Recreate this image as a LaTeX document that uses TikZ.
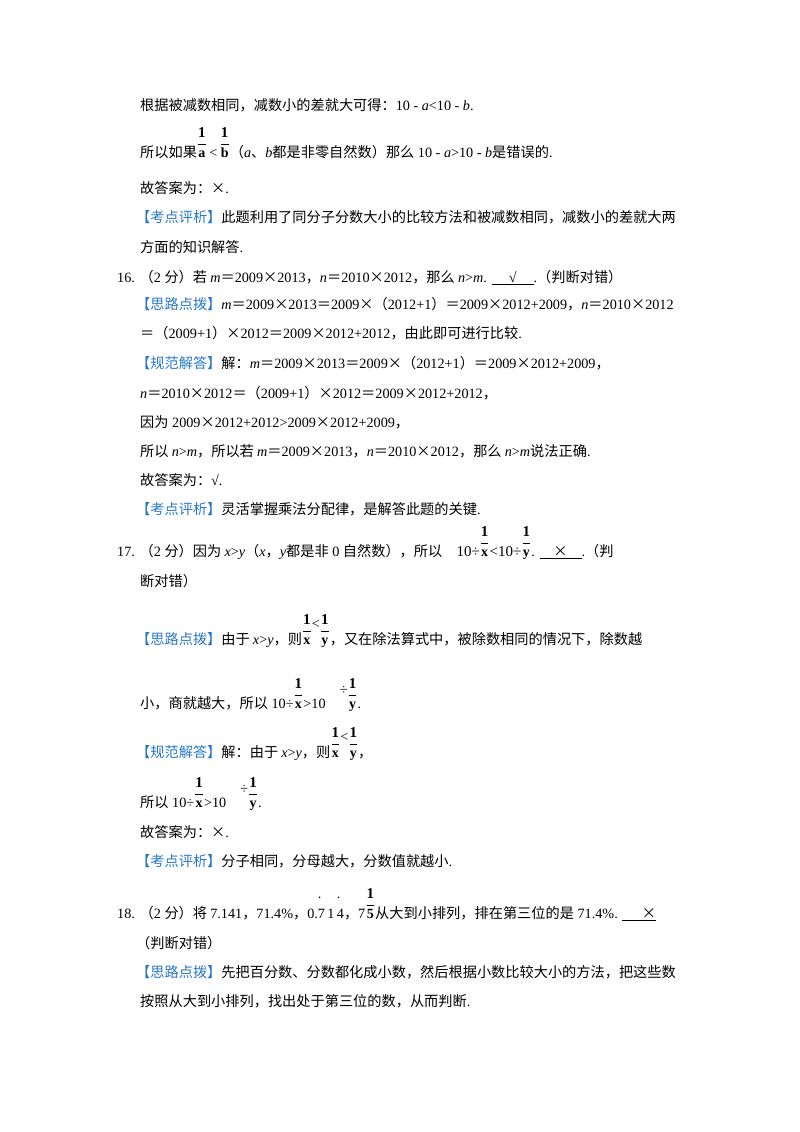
\documentclass[tikz,border=0pt]{standalone}
\usepackage{fontspec}
\usepackage{amsmath}
\setmainfont{Noto Sans CJK SC}
\newfontfamily\en{Liberation Serif}
\definecolor{lblue}{RGB}{40,120,200}
\newcommand\E[1]{{\en #1}}
\newcommand\I[1]{{\en\itshape #1}}
\newcommand\B[1]{\textcolor{lblue}{#1}}
\newcommand\fr[2]{\raisebox{9.5pt}{$\dfrac{\text{\en\bfseries\fontsize{15}{16}\selectfont #1}}{\text{\en\bfseries\fontsize{14}{16}\selectfont #2}}$}}
\newcommand\blank[2]{\underline{\hbox to #1{\hss #2\hss}}}
\tikzset{t/.style={anchor=base west,inner sep=0pt,font=\fontsize{14.2}{16}\selectfont}}
\begin{document}
\begin{tikzpicture}[x=1pt,y=-1pt]
\useasboundingbox (0,0) rectangle (800,1132);
\node[t] (l1) at (140,110) {根据被减数相同，减数小的差就大可得：\E{10 - }\I{a}\E{<10 - }\I{b}\E{.}};
\node[t] (l2) at (140,157) {所以如果\fr{1}{a}\,\E{<}\,\fr{1}{b}（\I{a}、\I{b}都是非零自然数）那么\E{ 10 - }\I{a}\E{>10 - }\I{b}是错误的\E{.}};
\node[t] (l3) at (140,193) {故答案为：×\E{.}};
\node[t] (l4) at (136,222) {\B{【考点评析】}此题利用了同分子分数大小的比较方法和被减数相同，减数小的差就大两};
\node[t] (l5) at (140,252) {方面的知识解答\E{.}};
\node[t] (l6) at (117,282) {\E{16. }（\E{2 }分）若 \I{m}＝\E{2009}×\E{2013}，\I{n}＝\E{2010}×\E{2012}，那么 \I{n}\E{>}\I{m}\E{. }\blank{42pt}{\E{√}}\E{.}（判断对错）};
\node[t] (l7) at (136,309) {\B{【思路点拨】}\I{m}＝\E{2009}×\E{2013}＝\E{2009}×（\E{2012+1}）＝\E{2009}×\E{2012+2009}，\I{n}＝\E{2010}×\E{2012}};
\node[t] (l8) at (140,338) {＝（\E{2009+1}）×\E{2012}＝\E{2009}×\E{2012+2012}，由此即可进行比较\E{.}};
\node[t] (l9) at (136,368) {\B{【规范解答】}解：\I{m}＝\E{2009}×\E{2013}＝\E{2009}×（\E{2012+1}）＝\E{2009}×\E{2012+2009}，};
\node[t] (l10) at (140,398) {\I{n}＝\E{2010}×\E{2012}＝（\E{2009+1}）×\E{2012}＝\E{2009}×\E{2012+2012}，};
\node[t] (l11) at (140,427) {因为\E{ 2009}×\E{2012+2012}\E{>}\E{2009}×\E{2012+2009}，};
\node[t] (l12) at (140,456) {所以 \I{n}\E{>}\I{m}，所以若 \I{m}＝\E{2009}×\E{2013}，\I{n}＝\E{2010}×\E{2012}，那么 \I{n}\E{>}\I{m}说法正确\E{.}};
\node[t] (l13) at (140,485) {故答案为：\E{√.}};
\node[t] (l14) at (136,514) {\B{【考点评析】}灵活掌握乘法分配律，是解答此题的关键\E{.}};
\node[t] (l15) at (117,556) {\E{17. }（\E{2 }分）因为 \I{x}\E{>}\I{y}（\I{x}，\I{y}都是非\E{ 0 }自然数），所以\quad{\en\fontsize{15}{16}\selectfont 10÷}\fr{1}{x}{\en\fontsize{15}{16}\selectfont <10÷}\fr{1}{y}\E{. }\blank{42pt}{×}\E{.}（判};
\node[t] (l16) at (140,586) {断对错）};
\node[t] (l17) at (136,644) {\B{【思路点拨】}由于 \I{x}\E{>}\I{y}，则\fr{1}{x}\raisebox{16pt}{\E{<}}\fr{1}{y}，又在除法算式中，被除数相同的情况下，除数越};
\node[t] (l18) at (140,708) {小，商就越大，所以\E{ 10÷}\fr{1}{x}\E{>10}\quad\raisebox{14pt}{\E{÷}}\fr{1}{y}\E{.}};
\node[t] (l19) at (136,757) {\B{【规范解答】}解：由于 \I{x}\E{>}\I{y}，则\fr{1}{x}\raisebox{16pt}{\E{<}}\fr{1}{y}，};
\node[t] (l20) at (140,807) {所以\E{ 10÷}\fr{1}{x}\E{>10}\quad\raisebox{14pt}{\E{÷}}\fr{1}{y}\E{.}};
\node[t] (l21) at (140,837) {故答案为：×\E{.}};
\node[t] (l22) at (136,866) {\B{【考点评析】}分子相同，分母越大，分数值就越小\E{.}};
\node[t] (l23) at (117,918) {\E{18. }（\E{2 }分）将 \E{7.141}，\E{71.4\%}，\E{0.}\rlap{\raisebox{20pt}{\E{.}}}\E{7\,1\,}\rlap{\raisebox{20pt}{\E{.}}}\E{4}，\E{7}\fr{1}{5}从大到小排列，排在第三位的是\E{ 71.4\%.} \blank{34pt}{\hfill×}};
\node[t] (l24) at (136,948) {（判断对错）};
\node[t] (l25) at (136,977) {\B{【思路点拨】}先把百分数、分数都化成小数，然后根据小数比较大小的方法，把这些数};
\node[t] (l26) at (140,1006) {按照从大到小排列，找出处于第三位的数，从而判断\E{.}};
\end{tikzpicture}
\end{document}
